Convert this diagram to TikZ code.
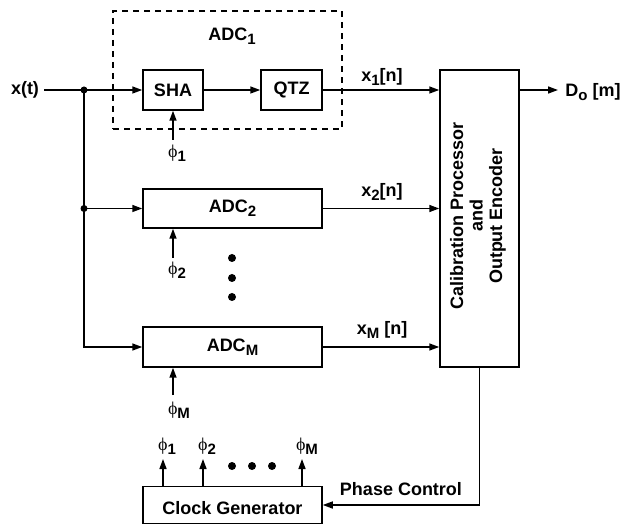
\documentclass[tikz,border=0pt]{standalone}
\usepackage{fontspec}
\setmainfont{Liberation Sans}
\newfontfamily\phifont{Liberation Serif}
\usetikzlibrary{arrows.meta}
\newcommand{\lowr}[1]{\raisebox{-0.4ex}{\fontsize{15}{15}\selectfont #1}}
\newcommand{\ph}[1]{{\phifont\mdseries\fontsize{18}{18}\selectfont ϕ}\lowr{#1}}
\begin{document}
\begin{tikzpicture}[x=1pt,y=-1pt,
  every node/.style={font=\fontsize{18}{21}\selectfont\bfseries},
  box/.style={draw,line width=1.5pt,inner sep=0pt},
  dashbox/.style={draw,line width=1.4pt,dash pattern=on 6pt off 5pt,inner sep=0pt},
  arr/.style={line width=1.5pt,-{Triangle[length=10pt,width=7pt]}},
  lbl/.style={inner sep=0pt},
  bigdot/.style={circle,fill,inner sep=0pt,minimum size=8pt},
  jdot/.style={circle,fill,inner sep=0pt,minimum size=7pt}]
\useasboundingbox (0,0) rectangle (633,524);
% dashed ADC1 enclosure
\node[dashbox,minimum width=229pt,minimum height=118pt] (adc1) at (227.5,70) {};
\node[lbl] (adc1l) at (232,36) {ADC\lowr{1}};
% boxes
\node[box,minimum width=60pt,minimum height=40pt] (sha) at (173,90) {SHA};
\node[box,minimum width=61pt,minimum height=40pt] (qtz) at (291.5,90) {QTZ};
\node[box,minimum width=179pt,minimum height=39pt] (adc2) at (232.5,208.5) {ADC\lowr{2}};
\node[box,minimum width=179pt,minimum height=40pt] (adcm) at (232.5,347) {ADC\lowr{M}};
\node[box,minimum width=79pt,minimum height=297pt] (cal) at (479.5,218.5) {};
\node[lbl,rotate=90,align=center,font=\fontsize{18}{19.5}\selectfont\bfseries] (calt) at (478,216) {Calibration Processor\\and\\Output Encoder};
\node[box,minimum width=179pt,minimum height=37pt] (clk) at (232.5,505) {};
\node[lbl] (clkt) at (232.5,508) {Clock Generator};
% input
\node[lbl] (xt) at (25,90) {x(t)};
\coordinate (xin) at (44,90);
\node[jdot] (j1) at (84,90) {};
\node[jdot] (j2) at (84,208.5) {};
\draw[arr] (xin) -- (sha.west);
\draw[arr] (j1.center) |- (adcm.west);
\draw[arr] (j2.center) -- (adc2.west);
\draw[arr] (sha) -- (qtz);
% outputs to calibration
\draw[arr] (qtz.east) -- (cal.west |- qtz.east);
\draw[arr] (adc2.east) -- (cal.west |- adc2.east);
\draw[arr] (adcm.east) -- (cal.west |- adcm.east);
\node[lbl] (x1l) at (382,77) {x\lowr{1}[n]};
\node[lbl] (x2l) at (382,192) {x\lowr{2}[n]};
\node[lbl] (xml) at (382,330) {x\lowr{M} [n]};
% output
\coordinate (dout) at (558,90);
\draw[arr] (cal.east |- dout) -- (dout);
\node[lbl] (dol) at (593,92) {D\lowr{o} [m]};
% clock inputs
\coordinate (p1) at (173,140);
\coordinate (p2) at (173,258);
\coordinate (pm) at (173,395);
\draw[arr] (p1) -- (sha.south);
\draw[arr] (p2) -- (adc2.south -| p2);
\draw[arr] (pm) -- (adcm.south -| pm);
\node[lbl] (p1l) at (177,153) {\ph{1}};
\node[lbl] (p2l) at (177,270) {\ph{2}};
\node[lbl] (pml) at (179,410) {\ph{M}};
% vertical dots
\node[bigdot] (d1) at (232,258) {};
\node[bigdot] (d2) at (232,278) {};
\node[bigdot] (d3) at (232,297) {};
% clock generator outputs
\coordinate (c1) at (163,459);
\coordinate (c2) at (203,459);
\coordinate (cm) at (302,459);
\draw[arr] (clk.north -| c1) -- (c1);
\draw[arr] (clk.north -| c2) -- (c2);
\draw[arr] (clk.north -| cm) -- (cm);
\node[lbl] (c1l) at (167,446) {\ph{1}};
\node[lbl] (c2l) at (207,446) {\ph{2}};
\node[lbl] (cml) at (307,446) {\ph{M}};
\node[bigdot] (h1) at (232,466) {};
\node[bigdot] (h2) at (252,466) {};
\node[bigdot] (h3) at (272,466) {};
% phase control
\draw[arr] (cal.south) |- (clk.east);
\node[lbl] (pcl) at (401,489) {Phase Control};
\end{tikzpicture}
\end{document}
